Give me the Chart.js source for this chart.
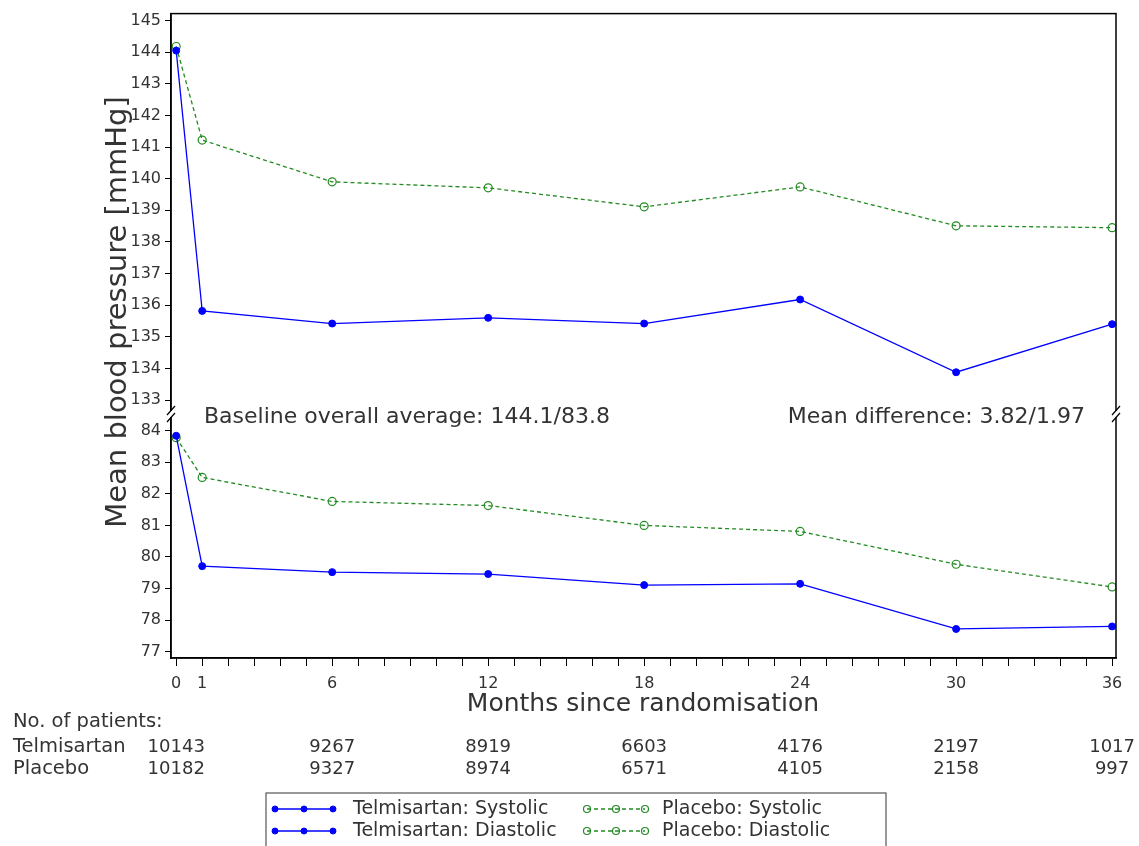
<!DOCTYPE html>
<html>
<head>
<meta charset="utf-8">
<script src="https://cdn.jsdelivr.net/npm/chart.js@4.4.1/dist/chart.umd.min.js"></script>
<style>
  html, body { margin: 0; padding: 0; background: #fff; }
  #wrap { width: 1139px; height: 846px; }
</style>
</head>
<body>
<div id="wrap"><canvas id="bpChart" width="1139" height="846"></canvas></div>
<script>
// months where a mean was recorded
const months = [0, 1, 6, 12, 18, 24, 30, 36];
const telmiSys = [144.05, 135.82, 135.42, 135.6, 135.42, 136.18, 133.88, 135.4];
const placeboSys = [144.18, 141.22, 139.9, 139.71, 139.11, 139.74, 138.51, 138.45];
const telmiDia = [83.84, 79.71, 79.52, 79.46, 79.11, 79.15, 77.72, 77.8];
const placeboDia = [83.78, 82.52, 81.76, 81.63, 81.0, 80.81, 79.77, 79.05];

// axis ticks
const sysTicks = [133, 134, 135, 136, 137, 138, 139, 140, 141, 142, 143, 144, 145];
const diaTicks = [77, 78, 79, 80, 81, 82, 83, 84];
const monthLabels = [0, 1, 6, 12, 18, 24, 30, 36];

// number at risk table
const patientMonths = [0, 6, 12, 18, 24, 30, 36];
const patientsTelmi = [10143, 9267, 8919, 6603, 4176, 2197, 1017];
const patientsPlacebo = [10182, 9327, 8974, 6571, 4105, 2158, 997];

const FONT = '"DejaVu Sans", sans-serif';
const TXT = '#333';
const BLUE = '#0000ff';
const GREEN = '#228b22';

function pts(ys) {
    return months.map((m, i) => ({x: m, y: ys[i]}));
}

function solidSet(label, ys, axis) {
    return {
        label: label, data: pts(ys), yAxisID: axis,
        borderColor: BLUE, borderWidth: 1.3,
        pointRadius: 3.5, pointBackgroundColor: BLUE, pointBorderColor: BLUE,
        pointBorderWidth: 1, tension: 0, fill: false
    };
}

function dashSet(label, ys, axis) {
    return {
        label: label, data: pts(ys), yAxisID: axis,
        borderColor: GREEN, borderWidth: 1.3, borderDash: [4, 3],
        pointRadius: 4, pointBackgroundColor: 'rgba(0,0,0,0)', pointBorderColor: GREEN,
        pointBorderWidth: 1.2, tension: 0, fill: false
    };
}

function yAxis(ticks, min, max, weight) {
    return {
        type: 'linear', position: 'left', stack: 'bp', stackWeight: weight,
        min: min, max: max,
        afterBuildTicks: (s) => { s.ticks = ticks.map(v => ({value: v})); },
        afterFit: (s) => { s.width = 171; },
        border: {display: true, color: '#000', width: 1.5},
        grid: {drawOnChartArea: false, drawTicks: true, tickLength: 6, color: '#000', lineWidth: 1},
        ticks: {color: TXT, padding: 4, autoSkip: false, font: {family: FONT, size: 16}}
    };
}

// frame, axis breaks, texts, patient table, legend
const extras = {
    id: 'extras',
    afterDraw(chart) {
        const ctx = chart.ctx;
        const a = chart.chartArea;
        const xs = chart.scales.x;
        const brk = chart.scales.ySys.bottom;
        ctx.save();

        ctx.strokeStyle = '#000';
        ctx.lineWidth = 1.5;
        ctx.strokeRect(a.left, a.top, a.right - a.left, a.bottom - a.top);

        // break marks
        [a.left, a.right].forEach(bx => {
            ctx.fillStyle = '#fff';
            ctx.fillRect(bx - 2, brk - 3, 4, 6);
            ctx.strokeStyle = '#000';
            ctx.lineWidth = 1.2;
            ctx.beginPath();
            ctx.moveTo(bx - 4, brk + 1); ctx.lineTo(bx + 4, brk - 8);
            ctx.moveTo(bx - 4, brk + 8); ctx.lineTo(bx + 4, brk - 1);
            ctx.stroke();
        });

        ctx.fillStyle = TXT;
        ctx.textBaseline = 'middle';
        ctx.font = '22px ' + FONT;
        ctx.textAlign = 'left';
        ctx.fillText('Baseline overall average: 144.1/83.8', 204, 417);
        ctx.textAlign = 'right';
        ctx.fillText('Mean difference: 3.82/1.97', 1085, 417);

        // axis titles
        ctx.textAlign = 'center';
        ctx.font = '25px ' + FONT;
        ctx.fillText('Months since randomisation', 643, 704);
        ctx.save();
        ctx.translate(118, 312);
        ctx.rotate(-Math.PI / 2);
        ctx.font = '29px ' + FONT;
        ctx.fillText('Mean blood pressure [mmHg]', 0, 0);
        ctx.restore();

        // patients table
        ctx.font = '19.5px ' + FONT;
        ctx.textAlign = 'left';
        ctx.fillText('No. of patients:', 13, 722);
        ctx.fillText('Telmisartan', 13, 747);
        ctx.fillText('Placebo', 13, 769);
        ctx.font = '18px ' + FONT;
        ctx.textAlign = 'center';
        patientMonths.forEach((m, i) => {
            const px = xs.getPixelForValue(m);
            ctx.fillText(String(patientsTelmi[i]), px, 747);
            ctx.fillText(String(patientsPlacebo[i]), px, 769);
        });

        // legend
        ctx.strokeStyle = '#555';
        ctx.lineWidth = 1.2;
        ctx.strokeRect(266, 793, 620, 70);
        const rows = [809, 831];
        const items = [
            {x: 275, tx: 353, text: 'Telmisartan: Systolic', ds: 0, row: 0},
            {x: 275, tx: 353, text: 'Telmisartan: Diastolic', ds: 1, row: 1},
            {x: 587, tx: 662, text: 'Placebo: Systolic', ds: 2, row: 0},
            {x: 587, tx: 662, text: 'Placebo: Diastolic', ds: 3, row: 1}
        ];
        ctx.font = '19px ' + FONT;
        items.forEach(it => {
            const d = chart.data.datasets[it.ds];
            const y = rows[it.row];
            ctx.strokeStyle = d.borderColor;
            ctx.lineWidth = d.borderWidth;
            ctx.setLineDash(d.borderDash || []);
            ctx.beginPath();
            ctx.moveTo(it.x, y); ctx.lineTo(it.x + 58, y);
            ctx.stroke();
            ctx.setLineDash([]);
            [0, 29, 58].forEach(dx => {
                ctx.beginPath();
                ctx.arc(it.x + dx, y, d.pointRadius - 0.5, 0, Math.PI * 2);
                ctx.fillStyle = d.pointBackgroundColor;
                ctx.fill();
                ctx.lineWidth = d.pointBorderWidth;
                ctx.strokeStyle = d.pointBorderColor;
                ctx.stroke();
            });
            ctx.fillStyle = TXT;
            ctx.textAlign = 'left';
            ctx.fillText(it.text, it.tx, y);
        });

        ctx.restore();
    }
};

const bpConfig = {
    type: 'line',
    data: {
        datasets: [
            solidSet('Telmisartan: Systolic', telmiSys, 'ySys'),
            solidSet('Telmisartan: Diastolic', telmiDia, 'yDia'),
            dashSet('Placebo: Systolic', placeboSys, 'ySys'),
            dashSet('Placebo: Diastolic', placeboDia, 'yDia')
        ]
    },
    options: {
        responsive: false,
        animation: false,
        layout: {padding: {top: 11, right: 23, left: 0, bottom: 0}},
        plugins: {
            legend: {display: false},
            tooltip: {enabled: false}
        },
        scales: {
            x: {
                type: 'linear', min: -0.2, max: 36.15,
                afterBuildTicks: (s) => {
                    const t = [];
                    for (let m = 0; m <= 36; m++) t.push({value: m});
                    s.ticks = t;
                },
                afterFit: (s) => { s.height = 188; },
                border: {display: true, color: '#000', width: 1.5},
                grid: {drawOnChartArea: false, drawTicks: true, tickLength: 8, color: '#000', lineWidth: 1},
                ticks: {
                    color: TXT, padding: 8, maxRotation: 0, autoSkip: false,
                    font: {family: FONT, size: 16},
                    callback: (v) => monthLabels.includes(v) ? String(v) : ''
                }
            },
            // the first axis of the stack is placed at the bottom
            yDia: yAxis(diaTicks, 76.8, 84.53, 245),
            ySys: yAxis(sysTicks, 132.56, 145.22, 402)
        }
    },
    plugins: [extras]
};

const bpChart = new Chart(document.getElementById('bpChart'), bpConfig);
</script>
</body>
</html>
